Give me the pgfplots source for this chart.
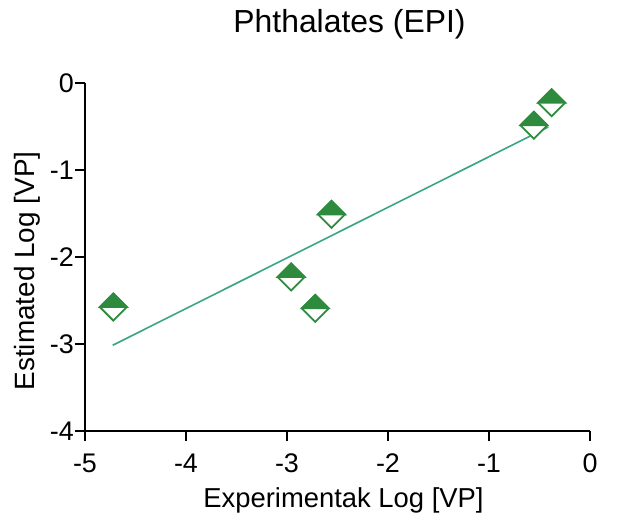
\documentclass[border=0pt]{standalone}
\usepackage{fontspec}
\setmainfont{Liberation Sans}
\usepackage{pgfplots}
\pgfplotsset{compat=1.18}
\usepackage{pgfplotstable}
\definecolor{mkgreen}{HTML}{2E8B3E}
\definecolor{lngreen}{HTML}{3AA585}
\pgfdeclareplotmark{halfdiamond}{%
  \pgfpathmoveto{\pgfqpoint{-\pgfplotmarksize}{0pt}}%
  \pgfpathlineto{\pgfqpoint{0pt}{-\pgfplotmarksize}}%
  \pgfpathlineto{\pgfqpoint{\pgfplotmarksize}{0pt}}%
  \pgfpathlineto{\pgfqpoint{0pt}{\pgfplotmarksize}}%
  \pgfpathclose
  \pgfsetfillcolor{white}\pgfusepathqfillstroke
  \pgfpathmoveto{\pgfqpoint{-\pgfplotmarksize}{0pt}}%
  \pgfpathlineto{\pgfqpoint{\pgfplotmarksize}{0pt}}%
  \pgfpathlineto{\pgfqpoint{0pt}{\pgfplotmarksize}}%
  \pgfpathclose
  \pgfsetfillcolor{mkgreen}\pgfusepathqfillstroke
}
\pgfplotstableread{
x y
-4.72 -2.575
-2.96 -2.23
-2.72 -2.59
-2.56 -1.51
-0.555 -0.486
-0.38 -0.226
}\pts
\pgfplotstableread{
x y
-4.726 -3.015
-0.413 -0.506
}\fitline
\begin{document}
\begin{tikzpicture}
\begin{axis}[name=ax, scale only axis, width=505bp, height=348bp,
  xmin=-5, xmax=0, ymin=-4, ymax=0,
  axis lines=left, axis line style={-, line width=2.8bp},
  tick style={line width=2.8bp, black}, tick align=outside, major tick length=10bp,
  xtick={-5,-4,-3,-2,-1,0}, ytick={-4,-3,-2,-1,0},
  /pgf/number format/assume math mode=true,
  tick label style={font=\fontsize{27}{27}\selectfont},
  xticklabel style={inner sep=0pt, yshift=-13bp},
  yticklabel style={inner sep=0pt, xshift=-1bp},
  clip=false,
  title={Phthalates (EPI)},
  title style={font=\fontsize{32}{32}\selectfont, at={(axis description cs:0.5,1)}, anchor=base, yshift=45bp, xshift=12bp},
  xlabel={Experimentak Log [VP]},
  xlabel style={font=\fontsize{27.5}{27.5}\selectfont, at={(axis description cs:0.5,0)}, anchor=base, yshift=-76bp, xshift=6bp},
  ylabel={Estimated Log [VP]},
  ylabel style={font=\fontsize{28}{28}\selectfont, at={(axis description cs:0,0.5)}, anchor=base, yshift=50bp, xshift=-14bp},
]
\addplot[only marks, mark=halfdiamond, mark size=13.5bp, mark options={draw=mkgreen, line width=1.8bp}] table {\pts};
\addplot[lngreen, line width=1.6bp, no marks] table {\fitline};
\end{axis}
\useasboundingbox ([xshift=-85bp,yshift=-86bp]ax.south west) rectangle ([xshift=27bp,yshift=83bp]ax.north east);
\end{tikzpicture}
\end{document}
